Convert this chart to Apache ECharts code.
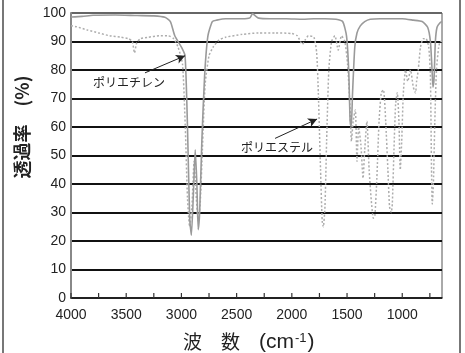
<!DOCTYPE html>
<html>
<head>
<meta charset="utf-8">
<script src="https://cdn.jsdelivr.net/npm/echarts@6/dist/echarts.min.js"></script>
<style>
  html, body { margin: 0; padding: 0; background: #fff; }
  #chart { width: 465px; height: 353px; }
</style>
</head>
<body>
<div id="chart"></div>
<script>
// ポリエチレン（実線）
const peWn = [4000, 3900, 3800, 3600, 3400, 3250, 3150, 3100, 3060, 3000, 2967, 2945, 2925, 2910, 2890, 2875, 2860, 2848, 2835, 2815, 2790, 2760, 2720, 2680, 2600, 2450, 2380, 2355, 2330, 2300, 2200, 2050, 1900, 1800, 1700, 1600, 1540, 1505, 1485, 1472, 1462, 1450, 1430, 1410, 1380, 1340, 1290, 1200, 1100, 1000, 900, 820, 770, 745, 730, 722, 712, 700, 685, 660, 640]
const peT = [98.6, 98.8, 99.2, 99.3, 99.1, 99.0, 98.5, 97, 92, 88, 85, 60, 28, 22, 38, 52, 40, 24, 30, 55, 78, 92, 97, 97.5, 98, 98, 98.3, 99.8, 99, 98.2, 98, 98, 97.8, 98, 98, 97.8, 97, 92, 80, 62, 60, 72, 88, 93, 95.5, 97, 97.8, 98, 98, 98, 97.5, 97, 95, 90, 80, 74, 77, 90, 95, 96.5, 97]

// ポリエステル（点線）
const pesWn = [4000, 3950, 3850, 3750, 3650, 3550, 3480, 3445, 3425, 3405, 3370, 3300, 3200, 3120, 3070, 3030, 2990, 2965, 2945, 2925, 2905, 2885, 2865, 2848, 2830, 2810, 2785, 2750, 2713, 2660, 2600, 2450, 2300, 2150, 2000, 1950, 1905, 1880, 1850, 1800, 1775, 1760, 1740, 1725, 1715, 1700, 1685, 1665, 1640, 1610, 1580, 1550, 1520, 1495, 1475, 1460, 1445, 1425, 1410, 1395, 1375, 1355, 1340, 1320, 1300, 1280, 1262, 1248, 1230, 1210, 1190, 1170, 1150, 1130, 1115, 1100, 1090, 1075, 1060, 1045, 1030, 1018, 1005, 990, 970, 950, 925, 900, 880, 870, 855, 835, 810, 785, 760, 745, 735, 728, 718, 705, 690, 670, 655, 640]
const pesT = [95.5, 95.2, 94, 93, 92, 91.5, 91, 90, 86, 89.5, 91, 91.5, 92, 92, 91, 88, 82, 60, 35, 25, 32, 48, 35, 27, 33, 52, 75, 85, 88, 90.5, 91.5, 92.5, 93, 93, 92.8, 92, 89, 90.5, 92, 91.5, 86, 72, 45, 27, 25, 32, 55, 80, 90, 92, 87, 92, 90, 82, 68, 55, 62, 66, 48, 60, 54, 42, 52, 62, 45, 34, 28, 29, 42, 62, 72, 73, 62, 45, 32, 30, 33, 52, 68, 72, 62, 45, 55, 72, 80, 76, 80, 74, 72, 76, 80, 88, 91, 91, 88, 78, 45, 33, 40, 62, 80, 88, 90, 90]

const tickVals = [4000, 3750, 3500, 3250, 3000, 2750, 2500, 2250, 2000, 1750, 1500, 1250, 1000, 750]
const labelVals = [4000, 3500, 3000, 2500, 2000, 1500, 1000]

const pePairs = peWn.map((w, i) => [w, peT[i]])
const pesPairs = pesWn.map((w, i) => [w, pesT[i]])

const font = "'Liberation Sans', Arial, sans-serif"
const jpFont = "'Noto Sans CJK JP', sans-serif"

const chart = echarts.init(document.getElementById('chart'), null, {renderer: 'canvas'})

chart.setOption({
  backgroundColor: '#fff',
  animation: false,
  grid: {
    left: 71,
    right: 23,
    top: 13,
    bottom: 55,
    show: true,
    borderColor: '#555',
    borderWidth: 1,
  },
  xAxis: {
    type: 'value',
    inverse: true,
    min: 640,
    max: 4000,
    axisLine: {show: true, lineStyle: {color: '#222', width: 1.5}},
    axisTick: {show: false},
    axisLabel: {
      customValues: labelVals,
      formatter: (v) => String(v),
      color: '#222',
      fontSize: 14,
      fontFamily: font,
      margin: 10,
    },
    splitLine: {show: false},
  },
  yAxis: {
    type: 'value',
    min: 0,
    max: 100,
    interval: 10,
    axisLine: {show: true, lineStyle: {color: '#888', width: 2}},
    axisTick: {show: false},
    axisLabel: {color: '#222', fontSize: 14, fontFamily: font, margin: 5},
    splitLine: {
      show: true,
      lineStyle: {
        color: ['#222', '#111', '#111', '#111', '#111', '#111', '#111', '#111', '#111', '#111', '#666'],
        width: 2,
      },
    },
  },
  series: [
    {
      name: 'ポリエチレン',
      type: 'line',
      data: pePairs,
      showSymbol: false,
      smooth: 0.2,
      lineStyle: {color: '#9a9a9a', width: 1.6},
      z: 3,
      markLine: {
        silent: true,
        symbol: ['none', 'arrow'],
        symbolSize: [7, 9],
        label: {show: false},
        lineStyle: {color: '#222', width: 1, type: 'solid'},
        data: [
          [{coord: [3330, 79]}, {coord: [2967, 85]}],
          [{coord: [2152, 56]}, {coord: [1771, 62.8]}],
        ],
      },
    },
    {
      name: 'ポリエステル',
      type: 'line',
      data: pesPairs,
      showSymbol: false,
      smooth: 0.2,
      lineStyle: {color: '#adadad', width: 1.5, type: [2, 2]},
      z: 2,
    },
    {
      // x軸の目盛り（内向き）
      type: 'custom',
      data: tickVals,
      silent: true,
      z: 5,
      renderItem: (params, api) => {
        const p = api.coord([api.value(0), 0])
        return {
          type: 'line',
          shape: {x1: p[0], y1: p[1], x2: p[0], y2: p[1] - 5},
          style: {stroke: '#333', lineWidth: 1.2},
        }
      },
    },
  ],
  graphic: [
    {
      type: 'rect',
      shape: {x: 3, y: -5, width: 457, height: 365},
      style: {fill: 'none', stroke: '#777', lineWidth: 2},
      silent: true,
    },
    {
      type: 'text',
      x: 129,
      y: 82,
      style: {text: 'ポリエチレン', font: '12px ' + jpFont, fill: '#222', textAlign: 'center', textVerticalAlign: 'middle'},
    },
    {
      type: 'text',
      x: 277,
      y: 147,
      style: {text: 'ポリエステル', font: '12px ' + jpFont, fill: '#222', textAlign: 'center', textVerticalAlign: 'middle'},
    },
    {
      type: 'text',
      x: 22,
      y: 127,
      rotation: Math.PI / 2,
      style: {text: '透過率　(%)', font: 'bold 18px ' + jpFont, fill: '#222', textAlign: 'center', textVerticalAlign: 'middle'},
    },
    {
      type: 'text',
      x: 183,
      y: 342,
      style: {
        text: '{a|波　数　}{b|(cm}{s|-1}{b|)}',
        textAlign: 'left',
        textVerticalAlign: 'middle',
        rich: {
          a: {font: '19px ' + jpFont, fill: '#222'},
          b: {font: '21px ' + font, fill: '#222'},
          s: {font: '13px ' + font, fill: '#222', verticalAlign: 'top', padding: [0, 1, 8, 1]},
        },
      },
    },
  ],
})
</script>
</body>
</html>
